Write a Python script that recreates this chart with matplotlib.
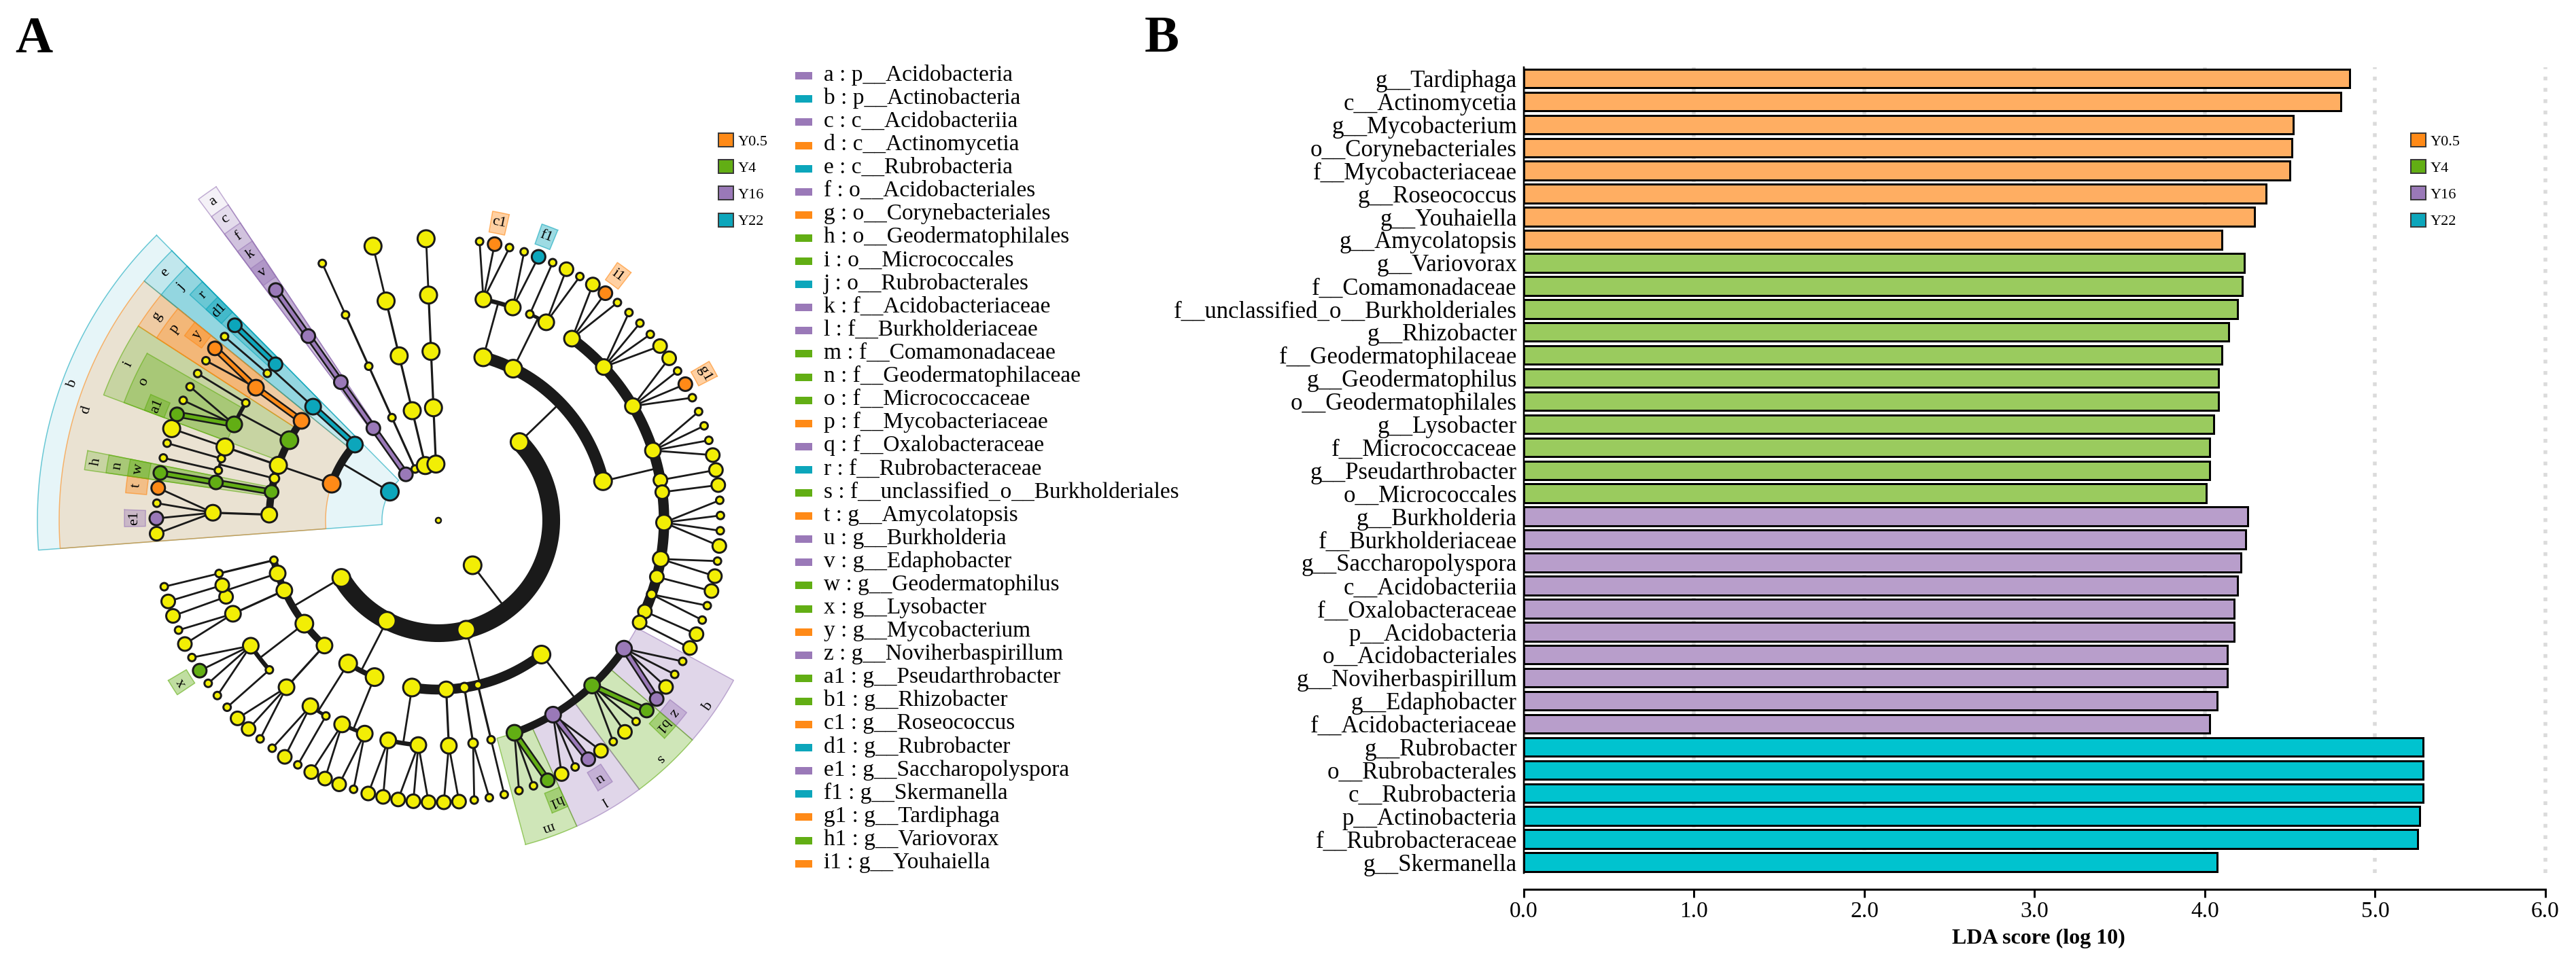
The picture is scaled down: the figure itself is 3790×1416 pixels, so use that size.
import numpy as np
import matplotlib.pyplot as plt
from matplotlib.patches import Circle, Patch, Rectangle

plt.rcParams['font.family'] = ['Liberation Serif', 'DejaVu Serif']

W, H, DPI = 3791, 1416, 100
PX = 72 / DPI  # points per pixel

# ---------------- LDA scores (panel B, top to bottom) ----------------
taxa = ['g__Tardiphaga', 'c__Actinomycetia', 'g__Mycobacterium', 'o__Corynebacteriales',
        'f__Mycobacteriaceae', 'g__Roseococcus', 'g__Youhaiella', 'g__Amycolatopsis',
        'g__Variovorax', 'f__Comamonadaceae', 'f__unclassified_o__Burkholderiales',
        'g__Rhizobacter', 'f__Geodermatophilaceae', 'g__Geodermatophilus',
        'o__Geodermatophilales', 'g__Lysobacter', 'f__Micrococcaceae',
        'g__Pseudarthrobacter', 'o__Micrococcales',
        'g__Burkholderia', 'f__Burkholderiaceae', 'g__Saccharopolyspora', 'c__Acidobacteriia',
        'f__Oxalobacteraceae', 'p__Acidobacteria', 'o__Acidobacteriales',
        'g__Noviherbaspirillum', 'g__Edaphobacter', 'f__Acidobacteriaceae',
        'g__Rubrobacter', 'o__Rubrobacterales', 'c__Rubrobacteria', 'p__Actinobacteria',
        'f__Rubrobacteraceae', 'g__Skermanella']
lda = [4.85, 4.80, 4.52, 4.51, 4.50, 4.36, 4.29, 4.10,
       4.23, 4.22, 4.19, 4.14, 4.10, 4.08, 4.08, 4.05, 4.03, 4.03, 4.01,
       4.25, 4.24, 4.21, 4.19, 4.17, 4.17, 4.13, 4.13, 4.07, 4.03,
       5.28, 5.28, 5.28, 5.26, 5.25, 4.07]
group = ['Y0.5'] * 8 + ['Y4'] * 11 + ['Y16'] * 10 + ['Y22'] * 6

groups = ['Y0.5', 'Y4', 'Y16', 'Y22']
strong = {'Y0.5': '#FF8A17', 'Y4': '#62AE14', 'Y16': '#9A79B8', 'Y22': '#0CA6BB'}
soft = {'Y0.5': '#FFAE62', 'Y4': '#9ACB5E', 'Y16': '#B89ECB', 'Y22': '#00C3CF'}
YELLOW = '#F2EE05'
INK = '#1a1a1a'

# ---------------- taxonomy tree (panel A), clockwise from Acidobacteria ----------------
# node = [name, children...]; leaf = size code (1-3) or name of a biomarker genus
tree = [
    ['p__Acidobacteria', ['c__Acidobacteriia', ['o__Acidobacteriales',
                                                ['f__Acidobacteriaceae', 'g__Edaphobacter']]]],
    ['', ['', ['', ['', 1]]]],
    ['', ['', ['', ['', 3]]]],
    ['', ['', ['', ['', 3]]]],
    ['',
     ['',
      ['', ['', 1, 'g__Roseococcus', 1], ['', 1, 'g__Skermanella']],
      ['', ['', 1], ['', 2, 1]],
      ['', ['', 2, 'g__Youhaiella', 1], ['', 1, 1, 1, 2], ['', 2, 1, 'g__Tardiphaga', 1],
       ['', 1, 1, 1, 2], ['', 2], ['', 2], ['', 1, 1, 1, 2], ['', 1, 2], ['', 2],
       ['', 1, 1], ['', 2], ['', 2]]],
     ['',
      ['', ['f__Oxalobacteraceae', 1, 1, 2, 'g__Noviherbaspirillum'],
       ['f__unclassified_o__Burkholderiales', 'g__Rhizobacter', 1, 2, 1],
       ['f__Burkholderiaceae', 2, 'g__Burkholderia', 1, 2],
       ['f__Comamonadaceae', 'g__Variovorax', 1, 1]],
      ['', ['', 1]],
      ['', ['', 1, 1]],
      ['', ['', 2, 2]],
      ['', ['', 2, 2, 2], ['', 2, 2]]],
     ['', ['', ['', 1, 2], ['', 2, 2]], ['', ['', 1], ['', 2, 1]]],
     ['', ['', ['', 1, 2, 2]], ['', ['', 1], ['', 1, 1, 'g__Lysobacter', 1]],
      ['', ['', 2, 1]], ['', ['', 2], ['', 2]], ['', ['', 1]]]],
    ['p__Actinobacteria',
     ['c__Actinomycetia',
      ['', ['', 2, 'g__Saccharopolyspora', 1, 'g__Amycolatopsis']],
      ['o__Geodermatophilales', ['f__Geodermatophilaceae', 'g__Geodermatophilus']],
      ['', ['', 1], ['', 1]],
      ['', ['', 3]],
      ['o__Micrococcales', ['f__Micrococcaceae', 'g__Pseudarthrobacter', 1, 1], ['', 1]],
      ['o__Corynebacteriales', ['f__Mycobacteriaceae', 1, 'g__Mycobacterium']]],
     ['c__Rubrobacteria', ['o__Rubrobacterales', ['', 1],
                           ['f__Rubrobacteraceae', 'g__Rubrobacter']]]],
]

# letter codes: by rank then name
rank_order = 'pcofg'
ordered = sorted(taxa, key=lambda t: (rank_order.index(t[0]), t))
letters = [chr(97 + i) if i < 26 else chr(97 + i - 26) + '1' for i in range(len(ordered))]
code = dict(zip(ordered, letters))
grp = dict(zip(taxa, group))

# ---------------- layout of the cladogram ----------------
STEP, GAP, START = 3.1, 7.8, 125.2
R = [0, 83, 166, 249, 332, 415]
CX, CY = 645, 766
LEAF_R = {1: 5.5, 2: 10.0, 3: 12.5}
ALPHA = {1: 0.10, 2: 0.17, 3: 0.25, 4: 0.30, 5: 0.40}

nodes = []


def build(item, level):
    if isinstance(item, list):
        nd = {'name': item[0], 'level': level, 'kids': [build(c, level + 1) for c in item[1:]]}
    else:
        nd = {'name': item if isinstance(item, str) else '', 'level': level, 'kids': [],
              'size': 2 if isinstance(item, str) else item}
    nodes.append(nd)
    return nd


phyla = [build(p, 1) for p in tree]
pos = START


def place(nd):
    global pos
    if not nd['kids']:
        nd['theta'] = pos
        pos -= STEP
        nd['leaves'] = [nd['theta']]
        nd['rad'] = LEAF_R[nd['size']]
        return
    for k in nd['kids']:
        place(k)
    ang = [k['theta'] for k in nd['kids']]
    nd['theta'] = (max(ang) + min(ang)) / 2
    nd['leaves'] = sum((k['leaves'] for k in nd['kids']), [])
    big = max(k['rad'] for k in nd['kids'])
    nd['rad'] = big if len(nd['kids']) == 1 else min(13.0, big + 1.5)


for p in phyla:
    place(p)
    pos -= GAP


def xy(r, th):
    t = np.radians(th)
    return CX + r * np.cos(t), CY - r * np.sin(t)


def ring(r, a0, a1):
    t = np.linspace(a0, a1, max(2, int(abs(a1 - a0) * 3) + 2))
    return xy(r, t)


def sector(r0, r1, a0, a1):
    xo, yo = ring(r1, a0, a1)
    xi, yi = ring(r0, a1, a0)
    xs = np.concatenate([xo, xi, xo[:1]])
    ys = np.concatenate([yo, yi, yo[:1]])
    return xs, ys


fig = plt.figure(figsize=(W / DPI, H / DPI), dpi=DPI)
ax = fig.add_axes([0, 0, 1700 / W, 1])
ax.set_xlim(0, 1700)
ax.set_ylim(H, 0)
ax.axis('off')

# highlighted clades
for nd in sorted([n for n in nodes if n['name'] in grp], key=lambda n: n['level']):
    L = nd['level']
    col = strong[grp[nd['name']]]
    a0 = min(nd['leaves']) - STEP / 2
    a1 = max(nd['leaves']) + STEP / 2
    r0 = R[L] if L < 5 else R[5] + 16
    r1 = 462 + 32 * (5 - L)
    xs, ys = sector(r0, r1, a0, a1)
    ax.fill(xs, ys, color=col, alpha=ALPHA[L], lw=0, zorder=1)
    ax.plot(xs, ys, color=col, alpha=0.6, lw=1.5 * PX, zorder=1)
    mid = (a0 + a1) / 2
    tx, ty = xy(r1 - 15, mid)
    ax.text(tx, ty, code[nd['name']], fontsize=16, rotation=mid - 90,
            ha='center', va='center', rotation_mode='anchor', zorder=6)

# branches
for nd in nodes:
    kids = nd['kids']
    if not kids:
        continue
    L = nd['level']
    p0 = xy(R[L], nd['theta'])
    if L == 4 or len(kids) == 1:
        for k in kids:
            p1 = xy(R[L + 1], k['theta'])
            lw = 2.8 if L == 4 else 3.2
            ax.plot([p0[0], p1[0]], [p0[1], p1[1]], color=INK, lw=lw * PX,
                    solid_capstyle='round', zorder=2)
            if nd['name'] in grp and k['name'] in grp:
                ax.plot([p0[0], p1[0]], [p0[1], p1[1]], color=INK, lw=10 * PX, zorder=3)
                ax.plot([p0[0], p1[0]], [p0[1], p1[1]], color=strong[grp[k['name']]],
                        lw=5 * PX, zorder=3)
    else:
        ang = [k['theta'] for k in kids]
        ax.plot(*ring(R[L + 1], min(ang), max(ang)), color=INK,
                lw=2.9 * np.sqrt(len(nd['leaves'])) * PX, solid_capstyle='butt', zorder=2)
        p1 = xy(R[L + 1], nd['theta'])
        ax.plot([p0[0], p1[0]], [p0[1], p1[1]], color=INK, lw=2.8 * PX, zorder=2)

# nodes
for nd in nodes:
    face = strong[grp[nd['name']]] if nd['name'] in grp else YELLOW
    ax.add_patch(Circle(xy(R[nd['level']], nd['theta']), nd['rad'], facecolor=face,
                        edgecolor=INK, lw=3 * PX, zorder=4))
ax.add_patch(Circle((CX, CY), 4, facecolor=YELLOW, edgecolor=INK, lw=2.5 * PX, zorder=4))

# biomarker key
for i, t in enumerate(ordered):
    yc = 111.7 + i * 34.1
    ax.add_patch(Rectangle((1170, yc - 5.5), 25, 11, color=strong[grp[t]], lw=0))
    ax.text(1212, yc + 7, f'{code[t]} : {t}', fontsize=24, va='baseline', ha='left')


def group_legend(axis, x_px):
    handles = [Patch(facecolor=strong[g], edgecolor='#3a3a3a', linewidth=2 * PX) for g in groups]
    axis.legend(handles, groups, loc='upper left', bbox_to_anchor=(x_px / W, 1 - 196 / H),
                bbox_transform=fig.transFigure, frameon=False, fontsize=16,
                handlelength=1.0, handleheight=1.0, handletextpad=0.3, labelspacing=0.75,
                borderpad=0, borderaxespad=0)


group_legend(ax, 1057)

# ---------------- panel B: LDA bars ----------------
axb = fig.add_axes([2242 / W, 1 - 1285 / H, 1515.5 / W, 1186 / H])
for s in ['top', 'right']:
    axb.spines[s].set_visible(False)
axb.spines['bottom'].set_position(('outward', 24 * PX))
axb.spines['bottom'].set_linewidth(3 * PX)
axb.spines['left'].set_linewidth(2.5 * PX)

yy = np.arange(len(taxa))
axb.barh(yy, lda, height=0.81, color=[soft[g] for g in group], edgecolor='black',
         linewidth=3 * PX, zorder=3)
axb.set_xlim(0, 6.05)
axb.set_ylim(len(taxa) - 1 + 0.47, -0.486)
axb.set_xticks(range(7))
axb.set_xticklabels([f'{v:.1f}' for v in range(7)])
axb.set_yticks(yy)
axb.set_yticklabels(taxa)
axb.spines['bottom'].set_bounds(0, 6)
axb.tick_params(axis='y', length=0, pad=10 * PX, labelsize=25)
axb.tick_params(axis='x', direction='out', length=12 * PX, width=3 * PX, pad=5 * PX,
                labelsize=24)
axb.grid(axis='x', color='#808080', alpha=0.28, lw=4, linestyle=(0, (1, 2)), zorder=4)
axb.set_xlabel('LDA score (log 10)', fontsize=23, fontweight='bold', labelpad=10 * PX)
group_legend(axb, 3547)

fig.text(22 / W, 1 - 77 / H, 'A', fontsize=55, fontweight='bold', va='baseline')
fig.text(1684 / W, 1 - 76 / H, 'B', fontsize=55, fontweight='bold', va='baseline')

fig.savefig('out.png', dpi=DPI)
